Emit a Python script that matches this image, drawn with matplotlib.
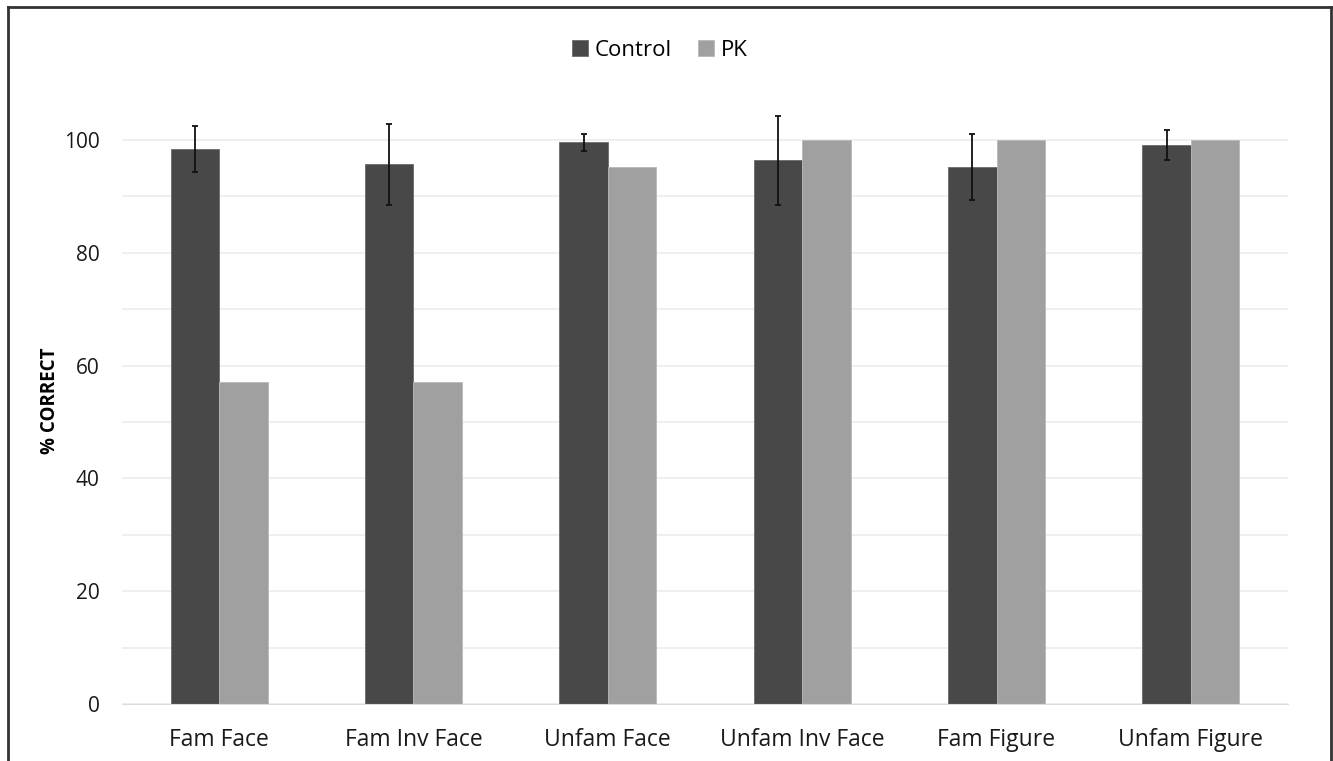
import numpy as np
import matplotlib.pyplot as plt
from matplotlib.lines import Line2D

plt.rcParams['font.family'] = ['Open Sans', 'DejaVu Sans']

conditions = ['Fam Face', 'Fam Inv Face', 'Unfam Face', 'Unfam Inv Face', 'Fam Figure', 'Unfam Figure']
control = [98.4, 95.7, 99.6, 96.4, 95.2, 99.1]
control_err = [4.1, 7.2, 1.5, 7.9, 5.9, 2.7]
pk = [57.1, 57.1, 95.2, 100, 100, 100]

x = np.arange(len(conditions))
w = 0.25

fig = plt.figure(figsize=(13.33, 7.61), dpi=100)
ax = fig.add_axes([0.0915, 0.0749, 0.8748, 0.83])

ax.bar(x - w / 2, control, w, color='#484848', edgecolor='#6a6a6a', linewidth=0.6,
       label='Control', zorder=2)
ax.bar(x + w / 2, pk, w, color='#a0a0a0', edgecolor='#b8b8b8', linewidth=0.6,
       label='PK', zorder=2)
ax.errorbar(x - w / 2, control, yerr=control_err, fmt='none', ecolor='#111111',
            elinewidth=1.3, capsize=2.5, capthick=1.3, zorder=3, clip_on=False)

ax.set_xlim(-0.5, 5.5)
ax.set_ylim(0, 112)
ax.set_yticks(np.arange(0, 101, 20))
ax.set_yticks(np.arange(10, 100, 20), minor=True)
ax.grid(axis='y', which='both', color='#ececec', linewidth=1.2, zorder=0)
ax.set_axisbelow(True)
ax.set_xticks(x)
ax.set_xticklabels(conditions, fontsize=16.5, color='#1a1a1a')
ax.tick_params(axis='y', labelsize=15, colors='#1a1a1a', length=0, pad=16)
ax.tick_params(axis='y', which='minor', length=0)
ax.tick_params(axis='x', length=0, pad=17)
for s in ['top', 'right', 'left']:
    ax.spines[s].set_visible(False)
ax.spines['bottom'].set_color('#dcdcdc')
ax.set_ylabel('% CORRECT', fontsize=13.5, fontweight='bold')
ax.yaxis.set_label_coords(-0.053, 0.48)

fig.legend(loc='center', bbox_to_anchor=(0.495, 0.934), ncol=2, frameon=False,
           fontsize=16, handlelength=0.7, handleheight=0.7, handletextpad=0.3,
           columnspacing=1.2)

# outer frame
fig.add_artist(Line2D([0.006, 0.006], [0, 0.991], transform=fig.transFigure, color='#333333', lw=2))
fig.add_artist(Line2D([0.006, 0.9985], [0.991, 0.991], transform=fig.transFigure, color='#333333', lw=2))
fig.add_artist(Line2D([0.9985, 0.9985], [0, 0.991], transform=fig.transFigure, color='#333333', lw=2))

fig.savefig('out.png', dpi=100)
